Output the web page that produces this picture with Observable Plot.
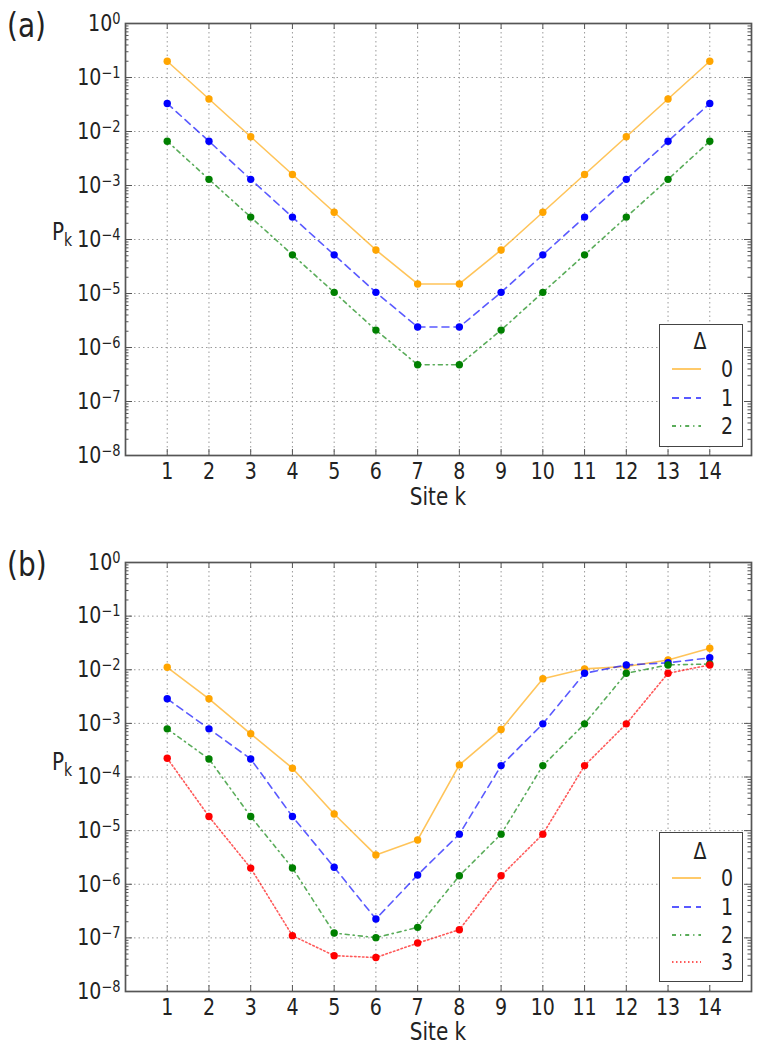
<!DOCTYPE html>
<html><head><meta charset="utf-8">
<script src="https://cdn.jsdelivr.net/npm/d3@7"></script>
<script src="https://cdn.jsdelivr.net/npm/@observablehq/plot@0.6"></script>
<style>
body{margin:0;background:#fff;font-family:"DejaVu Sans",sans-serif;}
#wrap{position:relative;width:761px;height:1050px;overflow:hidden;}
.panel{position:absolute;left:0;}
.lab{position:absolute;color:#222;white-space:nowrap;line-height:1;transform-origin:50% 50%;}
.legend{position:absolute;border:1.6px solid #444;background:#fff;box-sizing:border-box;}
</style></head><body><div id="wrap"></div>
<script>
// ---- data ----
const sites = [1,2,3,4,5,6,7,8,9,10,11,12,13,14];
const decades = [1e-8,1e-7,1e-6,1e-5,1e-4,1e-3,1e-2,1e-1,1];
const deltaNames = ["0","1","2","3"];
const seriesColors = ["#ffa500","#0000ff","#008000","#ff0000"];
const seriesDash = [null,"7,5","4,4,1.2,4","1.5,2.5"];

// panel (a)
const a0 = [0.2,0.04,0.008,0.0016,3.2e-4,6.4e-5,1.5e-5,1.5e-5,6.4e-5,3.2e-4,0.0016,0.008,0.04,0.2];
const a1 = [0.033,0.0066,0.0013,2.6e-4,5.2e-5,1.05e-5,2.4e-6,2.4e-6,1.05e-5,5.2e-5,2.6e-4,0.0013,0.0066,0.033];
const a2 = [0.0066,0.0013,2.6e-4,5.2e-5,1.05e-5,2.1e-6,4.8e-7,4.8e-7,2.1e-6,1.05e-5,5.2e-5,2.6e-4,0.0013,0.0066];

// panel (b)
const b0 = [0.0111,0.00287,6.4e-4,1.46e-4,2.04e-5,3.5e-6,6.7e-6,1.68e-4,7.7e-4,0.0068,0.0104,0.0115,0.0152,0.0252];
const b1 = [0.00287,7.9e-4,2.17e-4,1.83e-5,2.07e-6,2.25e-7,1.49e-6,8.6e-6,1.63e-4,9.8e-4,0.0086,0.0123,0.0135,0.0167];
const b2 = [7.9e-4,2.17e-4,1.83e-5,2.01e-6,1.23e-7,1.01e-7,1.57e-7,1.44e-6,8.6e-6,1.63e-4,9.8e-4,0.0086,0.0123,0.0128];
const b3 = [2.23e-4,1.83e-5,2.0e-6,1.1e-7,4.66e-8,4.3e-8,8.0e-8,1.42e-7,1.44e-6,8.6e-6,1.63e-4,9.8e-4,0.0086,0.0123];

const minorTicks = [];
for (let e = -8; e < 0; e++) for (let m = 2; m <= 9; m++) minorTicks.push(m * Math.pow(10, e));

const svgns = "http://www.w3.org/2000/svg";
const wrap = document.getElementById("wrap");
const STRETCH = 1.2;

function makePanel(valuesList, top, height, mt, mb) {
  const W = 761, ml = 125, mr = 10;
  const fw = W - ml - mr, fh = height - mt - mb;
  const marks = [
    Plot.gridX(sites, {stroke:"#9a9a9a", strokeOpacity:1, strokeWidth:1, strokeDasharray:"1.5,3"}),
    Plot.gridY(decades, {stroke:"#9a9a9a", strokeOpacity:1, strokeWidth:1, strokeDasharray:"1.5,3"}),
  ];
  valuesList.forEach((vals, i) => {
    const rows = sites.map((k, j) => ({site:k, P:vals[j], delta:deltaNames[i]}));
    marks.push(Plot.line(rows, {x:"site", y:"P", stroke:seriesColors[i], strokeOpacity:0.65, strokeWidth:1.6, strokeDasharray:seriesDash[i]}));
    marks.push(Plot.dot(rows, {x:"site", y:"P", fill:seriesColors[i], r:3.7, stroke:"none"}));
  });
  marks.push(
    Plot.tickY(decades.slice(1,-1), {y:d=>d, stroke:"#555", strokeWidth:1, insetRight: fw - 7}),
    Plot.tickY(decades.slice(1,-1), {y:d=>d, stroke:"#555", strokeWidth:1, insetLeft: fw - 7}),
    Plot.tickY(minorTicks, {y:d=>d, stroke:"#555", strokeWidth:1, insetRight: fw - 3.5}),
    Plot.tickY(minorTicks, {y:d=>d, stroke:"#555", strokeWidth:1, insetLeft: fw - 3.5}),
    Plot.tickX(sites, {x:d=>d, stroke:"#555", strokeWidth:1, insetTop: fh - 6}),
    Plot.tickX(sites, {x:d=>d, stroke:"#555", strokeWidth:1, insetBottom: fh - 6}),
    Plot.axisY(decades, {anchor:"left", tickSize:0, tickPadding:5, fontSize:19, fill:"#222", label:null,
      tickFormat: d => "10^" + Math.round(Math.log10(d))}),
    Plot.axisX(sites, {anchor:"bottom", tickSize:0, tickPadding:7, fontSize:19, fill:"#222", label:null, tickFormat: d => String(d)}),
    Plot.frame({stroke:"#555", strokeWidth:1.7})
  );
  const svg = Plot.plot({
    width: W, height, marginTop: mt, marginBottom: mb, marginLeft: ml, marginRight: mr,
    style: {fontFamily:"DejaVu Sans, sans-serif", background:"transparent"},
    x: {domain:[0,15]},
    y: {type:"log", domain:[1e-8,1]},
    marks
  });
  svg.querySelectorAll('[aria-label="y-axis tick label"] text').forEach(t => {
    const [b, e] = t.textContent.split("^");
    t.textContent = b;
    const ts = document.createElementNS(svgns, "tspan");
    ts.setAttribute("dy", "-0.45em");
    ts.setAttribute("font-size", "13px");
    ts.textContent = e.replace("-", "\u2212");
    t.appendChild(ts);
  });
  svg.querySelectorAll('[aria-label="y-axis tick label"] text, [aria-label="x-axis tick label"] text').forEach(t => {
    const tr = t.getAttribute("transform") || "";
    t.setAttribute("transform", tr + ` scale(1,${STRETCH})`);
  });
  svg.classList.add("panel");
  svg.style.top = top + "px";
  wrap.appendChild(svg);
}

function label(html, left, top, size, tx) {
  const d = document.createElement("div");
  d.className = "lab";
  d.innerHTML = html;
  d.style.left = left + "px";
  d.style.top = top + "px";
  d.style.fontSize = size + "px";
  d.style.transform = (tx || "") + ` scaleY(${STRETCH})`;
  wrap.appendChild(d);
  return d;
}

function legend(n, left, top, w, h, rowYs, titleY) {
  const box = document.createElement("div");
  box.className = "legend";
  Object.assign(box.style, {left:left+"px", top:top+"px", width:w+"px", height:h+"px"});
  const s = document.createElementNS(svgns, "svg");
  s.setAttribute("width", w); s.setAttribute("height", h);
  s.style.position = "absolute"; s.style.left = "-1.6px"; s.style.top = "-1.6px";
  const mkText = (x, y, str) => {
    const t = document.createElementNS(svgns, "text");
    t.setAttribute("transform", `translate(${x},${y}) scale(1,${STRETCH})`);
    t.setAttribute("text-anchor","middle");
    t.setAttribute("dy","0.36em"); t.setAttribute("font-size","19"); t.setAttribute("fill","#222");
    t.textContent = str;
    s.appendChild(t);
  };
  mkText(w/2, titleY, "\u0394");
  for (let i = 0; i < n; i++) {
    const l = document.createElementNS(svgns, "line");
    l.setAttribute("x1", 14); l.setAttribute("x2", 43);
    l.setAttribute("y1", rowYs[i]); l.setAttribute("y2", rowYs[i]);
    l.setAttribute("stroke", seriesColors[i]); l.setAttribute("stroke-opacity", 0.65);
    l.setAttribute("stroke-width", 1.8);
    if (seriesDash[i]) l.setAttribute("stroke-dasharray", seriesDash[i]);
    s.appendChild(l);
    mkText(69, rowYs[i], deltaNames[i]);
  }
  box.appendChild(s);
  wrap.appendChild(box);
}

makePanel([a0, a1, a2], 0, 520, 23, 65);
makePanel([b0, b1, b2, b3], 520, 530, 42, 59);

label("(a)", 7, 12, 28);
label("(b)", 7, 551, 28);
label('P<sub style="font-size:14px;vertical-align:-5px">k</sub>', 52, 222, 20);
label('P<sub style="font-size:14px;vertical-align:-5px">k</sub>', 52, 752, 20);
label("Site k", 438, 487, 20, "translateX(-50%)");
label("Site k", 438, 1022, 20, "translateX(-50%)");

legend(3, 659, 324, 84, 123, [46, 75, 103], 18);
legend(4, 659, 832, 84, 150, [47, 76, 104, 131], 20);
</script></body></html>
